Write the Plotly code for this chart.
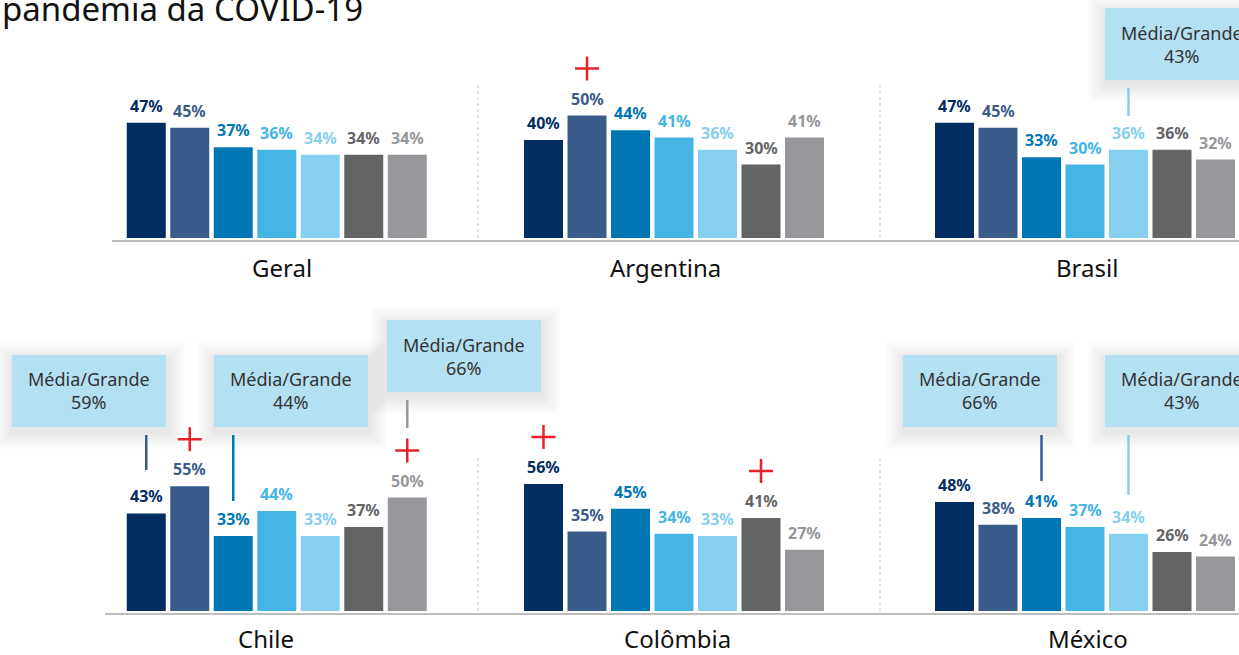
import plotly.graph_objects as go

W, H = 1239, 655

# ---- data -------------------------------------------------------------
panels = ["Geral", "Argentina", "Brasil", "Chile", "Colômbia", "México"]
geral = [47, 45, 37, 36, 34, 34, 34]
argentina = [40, 50, 44, 41, 36, 30, 41]
brasil = [47, 45, 33, 30, 36, 36, 32]
chile = [43, 55, 33, 44, 33, 37, 50]
colombia = [56, 35, 45, 34, 33, 41, 27]
mexico = [48, 38, 41, 37, 34, 26, 24]
panel_values = [geral, argentina, brasil, chile, colombia, mexico]

# bars flagged with a red "+" (panel, bar index)
significant = [("Argentina", 1), ("Chile", 1), ("Chile", 6),
               ("Colômbia", 0), ("Colômbia", 5)]

# callouts: (panel, bar index, label, value)
callout_panel = ["Brasil", "Chile", "Chile", "Chile", "México", "México"]
callout_bar = [4, 0, 2, 6, 2, 4]
callout_label = "Média/Grande"
callout_value = [43, 59, 44, 66, 66, 43]

# ---- styling ----------------------------------------------------------
bar_colors = ["#002D62", "#3A5C8A", "#0077B3", "#44B5E5",
              "#87CFEE", "#636466", "#96979B"]
FONT = "Noto Sans"

# panel geometry in pixels
panel_left = [124.5, 521.75, 932.75, 124.5, 521.75, 932.75]
panel_width = 304.5
row_base = [238, 611]          # baseline of bars per row
row_scale = [2.45, 2.27]       # pixels per percentage point per row
YMAX = 90
label_x = [282, 666, 1087, 266, 677, 1088]
label_y = [267, 638]

# callout placement in pixels: box left, box top, connector top, connector bottom
callout_geom = [(1105, 8, 88, 116), (12, 355, 435, 470), (214, 355, 435, 501),
                (387, 320, 400, 428), (903, 355, 435, 481), (1105, 355, 435, 495)]
callout_line_color = ["#87CFEE", "#3A5C8A", "#0077B3", "#9A9A9A", "#3A5C8A", "#87CFEE"]
BOX_W, BOX_H = 154, 72


def px(x):
    return x / W


def py(y):
    return 1 - y / H


fig = go.Figure()
layout = dict(
    width=W, height=H, margin=dict(l=0, r=0, t=0, b=0),
    paper_bgcolor="white", plot_bgcolor="rgba(0,0,0,0)",
    showlegend=False, bargap=0.1034,
    font=dict(family=FONT),
)
annotations = []
shapes = []

for p, (name, vals) in enumerate(zip(panels, panel_values)):
    row = p // 3
    ax = "" if p == 0 else str(p + 1)
    xref, yref = "x" + ax, "y" + ax
    x0 = panel_left[p]
    base = row_base[row]
    top = base - YMAX * row_scale[row]
    layout["xaxis" + ax] = dict(domain=[px(x0), px(x0 + panel_width)],
                                range=[-0.5, 6.5], visible=False, fixedrange=True)
    layout["yaxis" + ax] = dict(domain=[py(base), py(top)], range=[0, YMAX],
                                visible=False, fixedrange=True)
    fig.add_trace(go.Bar(x=list(range(7)), y=vals, marker=dict(color=bar_colors, line_width=0),
                         xaxis=xref, yaxis=yref, hoverinfo="skip"))
    for i, v in enumerate(vals):
        annotations.append(dict(x=i, y=v, xref=xref, yref=yref, text=f"{v}%",
                                showarrow=False, yanchor="middle", yshift=17,
                                font=dict(family=FONT, size=16, color=bar_colors[i], weight="bold")))
    annotations.append(dict(x=px(label_x[p]), y=py(label_y[row]), xref="paper", yref="paper",
                            text=name, showarrow=False, xanchor="center", yanchor="middle",
                            font=dict(family=FONT, size=24, color="#111111")))
    for (sp, si) in significant:
        if sp == name:
            v = vals[si]
            common = dict(xref=xref, yref=yref, xsizemode="pixel", ysizemode="pixel",
                          xanchor=si, yanchor=v, type="line",
                          line=dict(color="#E8212B", width=2.5), layer="above")
            shapes.append(dict(x0=-12, x1=12, y0=47, y1=47, **common))
            shapes.append(dict(x0=0, x1=0, y0=35, y1=59, **common))

# base lines and dotted separators
for row, (yline, xstart) in enumerate([(241, 112), (614, 105)]):
    shapes.append(dict(type="line", xref="paper", yref="paper", x0=px(xstart), x1=1,
                       y0=py(yline), y1=py(yline), line=dict(color="#A8A8A8", width=1.5)))
    for xs in (478, 880):
        ytop = 85 if row == 0 else 458
        shapes.append(dict(type="line", xref="paper", yref="paper", x0=px(xs), x1=px(xs),
                           y0=py(ytop), y1=py(yline - 1),
                           line=dict(color="#C8C8C8", width=1, dash="dot")))

# callout boxes with soft shadow and connector lines
for k in range(len(callout_panel)):
    p = panels.index(callout_panel[k])
    ax = "" if p == 0 else str(p + 1)
    bl, bt, ly0, ly1 = callout_geom[k]
    for s in range(12, 0, -1):
        g = 1.5 * s
        shapes.append(dict(type="rect", xref="paper", yref="paper", layer="below",
                           x0=px(bl - g + 1), x1=px(bl + BOX_W + g + 1),
                           y0=py(bt + BOX_H + g + 4), y1=py(bt - g + 5),
                           line_width=0, fillcolor="rgba(0,0,0,0.006)"))
    shapes.append(dict(type="rect", xref="paper", yref="paper", layer="below",
                       x0=px(bl), x1=px(bl + BOX_W), y0=py(bt + BOX_H), y1=py(bt),
                       line_width=0, fillcolor="#B3E1F3"))
    shapes.append(dict(type="line", xref="x" + ax, yref="paper",
                       x0=callout_bar[k], x1=callout_bar[k], y0=py(ly0), y1=py(ly1),
                       line=dict(color=callout_line_color[k], width=2.5)))
    annotations.append(dict(x=px(bl + BOX_W / 2), y=py(bt + BOX_H / 2), xref="paper", yref="paper",
                            text=f"{callout_label}<br>{callout_value[k]}%", showarrow=False,
                            xanchor="center", yanchor="middle",
                            font=dict(family=FONT, size=18, color="#333333")))

# title fragment at top-left
annotations.append(dict(x=px(0), y=py(8), xref="paper", yref="paper",
                        text="pandemia da COVID-19", showarrow=False,
                        xanchor="left", yanchor="middle",
                        font=dict(family=FONT, size=33, color="#111111")))

layout["annotations"] = annotations
layout["shapes"] = shapes
fig.update_layout(**layout)
fig.write_html("out.html")
